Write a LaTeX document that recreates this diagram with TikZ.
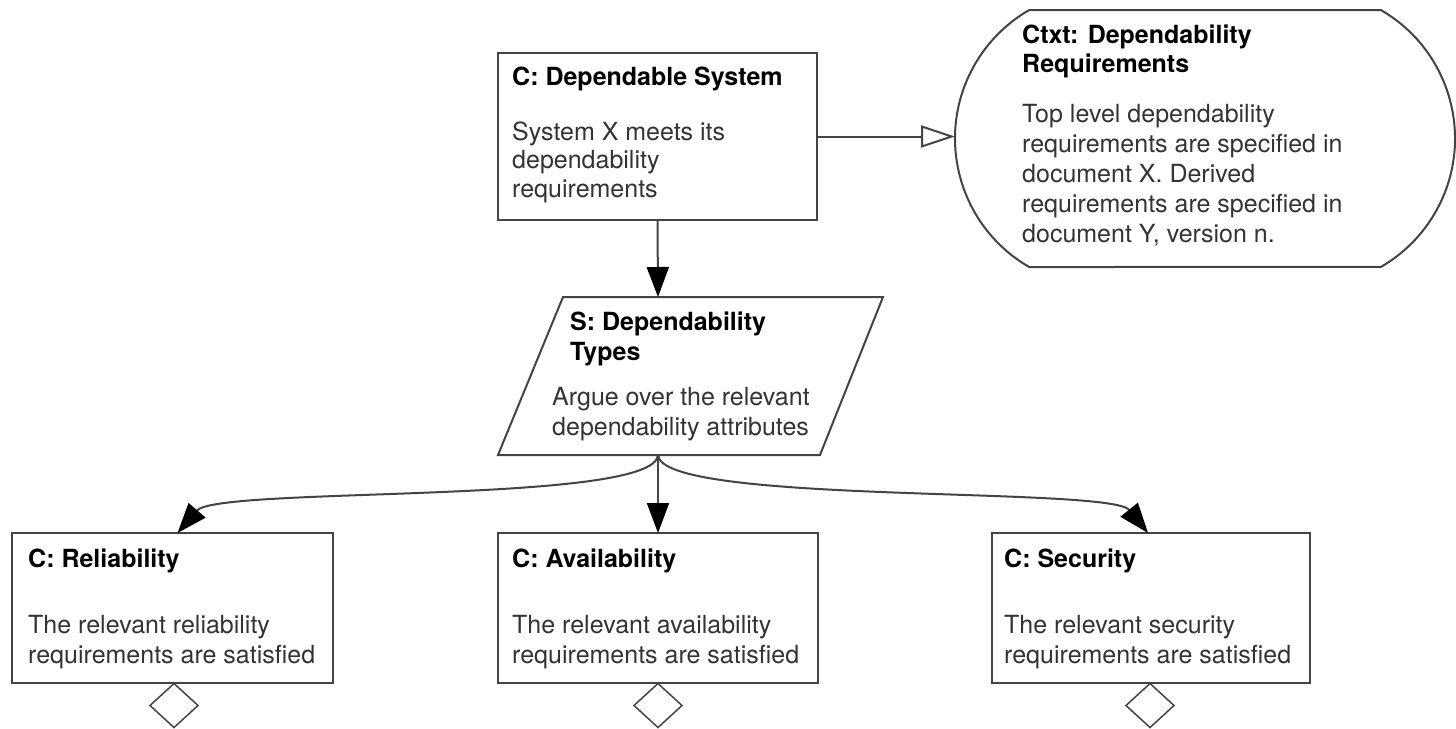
\documentclass[tikz,border=0pt]{standalone}
\usepackage{fontspec}
\setmainfont{TeX Gyre Heros}
\usetikzlibrary{arrows.meta,shapes.misc,shapes.geometric}
\definecolor{edgecol}{HTML}{444444}
\definecolor{bodycol}{HTML}{333333}
\begin{document}
\begin{tikzpicture}[x=1pt,y=-1pt,
  boxstyle/.style={draw=edgecol,line width=2pt,fill=white,inner sep=0pt,outer sep=0pt,rectangle},
  ctxstyle/.style={draw=edgecol,line width=2pt,fill=white,inner sep=0pt,outer sep=0pt,rounded rectangle,rounded rectangle arc length=120},
  dia/.style={draw=edgecol,line width=1.5pt,fill=white,diamond,inner sep=0pt,outer sep=0pt,minimum width=48pt,minimum height=44pt},
  headtxt/.style={anchor=base west,inner sep=0pt,font=\fontsize{25}{29}\selectfont\bfseries,text=black},
  bodytxt/.style={anchor=base west,inner sep=0pt,font=\fontsize{25}{29}\selectfont,text=bodycol},
  conn/.style={draw=edgecol,line width=2pt},
  solidarrow/.style={conn,-{Triangle[length=30pt,width=22pt,black]}},
  openarrow/.style={conn,-{Triangle[open,length=34pt,width=22pt,fill=white]}}
]
\useasboundingbox[fill=white] (0,0) rectangle (1456,728);

% top goal
\node[boxstyle,minimum width=319pt,minimum height=167pt] (top) at (657.5,136.5) {};
\node[headtxt] (topH) at (512,85) {C: Dependable System};
\node[bodytxt] (topB1) at (512,140) {System X meets its};
\node[bodytxt] (topB2) at (512,168.5) {dependability};
\node[bodytxt] (topB3) at (512,197) {requirements};

% context
\node[ctxstyle,minimum width=500pt,minimum height=257pt] (ctx) at (1205,138.5) {};
\node[headtxt] (ctxH1) at (1022,43) {Ctxt: Dependability};
\node[headtxt] (ctxH2) at (1022,72) {Requirements};
\node[bodytxt] (ctxB1) at (1022,122) {Top level dependability};
\node[bodytxt] (ctxB2) at (1022,152) {requirements are specified in};
\node[bodytxt] (ctxB3) at (1022,182) {document X. Derived};
\node[bodytxt] (ctxB4) at (1022,212) {requirements are specified in};
\node[bodytxt] (ctxB5) at (1022,242) {document Y, version n.};

% strategy
\node[inner sep=0pt,outer sep=0pt,minimum width=320pt,minimum height=158pt] (strat) at (658,376) {};
\draw[draw=edgecol,line width=2pt,fill=white] (563,297) -- (883,297) -- (820,455) -- (498,455) -- cycle;
\node[headtxt] (stH1) at (570,330) {S: Dependability};
\node[headtxt] (stH2) at (570,360) {Types};
\node[bodytxt] (stB1) at (552,405) {Argue over the relevant};
\node[bodytxt] (stB2) at (552,435) {dependability attributes};

% bottom claims
\node[boxstyle,minimum width=321pt,minimum height=150pt] (rel) at (172.5,608) {};
\node[headtxt] (relH) at (28,567) {C: Reliability};
\node[bodytxt] (relB1) at (28,633) {The relevant reliability};
\node[bodytxt] (relB2) at (28,663) {requirements are satisfied};

\node[boxstyle,minimum width=320pt,minimum height=150pt] (avl) at (658,608) {};
\node[headtxt] (avlH) at (512,567) {C: Availability};
\node[bodytxt] (avlB1) at (512,633) {The relevant availability};
\node[bodytxt] (avlB2) at (512,663) {requirements are satisfied};

\node[boxstyle,minimum width=318pt,minimum height=150pt] (sec) at (1151,608) {};
\node[headtxt] (secH) at (1004,567) {C: Security};
\node[bodytxt] (secB1) at (1004,633) {The relevant security};
\node[bodytxt] (secB2) at (1004,663) {requirements are satisfied};

% undeveloped diamonds
\node[dia] (d1) at (174,705.5) {};
\node[dia] (d2) at (658,705.5) {};
\node[dia] (d3) at (1150,705.5) {};

% connectors
\draw[openarrow] (top.east) -- (top.east -| ctx.west);
\draw[solidarrow] (top.south) -- (strat.north);
\draw[solidarrow] (strat.south) -- (avl.north);
\draw[solidarrow] (strat.south) .. controls (655,505) and (218,486) .. ([xshift=5pt]rel.north);
\draw[solidarrow] (strat.south) .. controls (661,505) and (1110,486) .. ([xshift=-3pt]sec.north);
\end{tikzpicture}
\end{document}
